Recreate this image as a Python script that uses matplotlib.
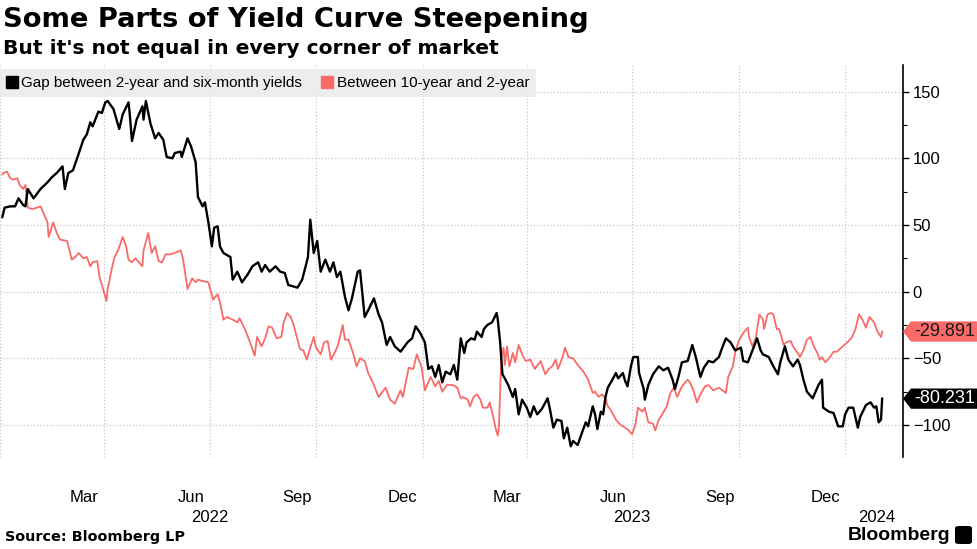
#!/usr/bin/env python3
"""Yield curve gaps: 2y-6m vs 10y-2y, Bloomberg-style chart."""

import pandas as pd
import matplotlib.pyplot as plt
import matplotlib.dates as mdates
from matplotlib.lines import Line2D
from matplotlib.patches import Polygon, FancyBboxPatch
from matplotlib.transforms import blended_transform_factory

plt.rcParams['font.family'] = ['Liberation Sans', 'DejaVu Sans']

# gap between 2-year and six-month yields (bp)
gap_dates = [
    '2022-01-03', '2022-01-05', '2022-01-10', '2022-01-14', '2022-01-17', '2022-01-21', '2022-01-23',
    '2022-01-25', '2022-01-30', '2022-02-05', '2022-02-11', '2022-02-15', '2022-02-19', '2022-02-24',
    '2022-02-26', '2022-03-01', '2022-03-05', '2022-03-09', '2022-03-14', '2022-03-17', '2022-03-20',
    '2022-03-22', '2022-03-27', '2022-03-30', '2022-04-02', '2022-04-04', '2022-04-09', '2022-04-14',
    '2022-04-17', '2022-04-22', '2022-04-23', '2022-04-25', '2022-04-29', '2022-05-04', '2022-05-05',
    '2022-05-07', '2022-05-11', '2022-05-15', '2022-05-18', '2022-05-22', '2022-05-25', '2022-05-30',
    '2022-06-01', '2022-06-06', '2022-06-07', '2022-06-12', '2022-06-15', '2022-06-19', '2022-06-21',
    '2022-06-25', '2022-06-27', '2022-06-30', '2022-07-03', '2022-07-05', '2022-07-08', '2022-07-10',
    '2022-07-13', '2022-07-19', '2022-07-21', '2022-07-25', '2022-07-29', '2022-08-03', '2022-08-07',
    '2022-08-12', '2022-08-15', '2022-08-18', '2022-08-22', '2022-08-27', '2022-08-31', '2022-09-04',
    '2022-09-07', '2022-09-11', '2022-09-15', '2022-09-19', '2022-09-22', '2022-09-24', '2022-09-26',
    '2022-09-29', '2022-10-02', '2022-10-05', '2022-10-09', '2022-10-13', '2022-10-16', '2022-10-19',
    '2022-10-22', '2022-10-26', '2022-10-29', '2022-11-01', '2022-11-06', '2022-11-08', '2022-11-12',
    '2022-11-15', '2022-11-20', '2022-11-24', '2022-11-27', '2022-12-01', '2022-12-04', '2022-12-08',
    '2022-12-13', '2022-12-19', '2022-12-23', '2022-12-26', '2022-12-30', '2023-01-03', '2023-01-06',
    '2023-01-09', '2023-01-12', '2023-01-15', '2023-01-18', '2023-01-21', '2023-01-25', '2023-01-28',
    '2023-01-31', '2023-02-03', '2023-02-06', '2023-02-08', '2023-02-12', '2023-02-15', '2023-02-17',
    '2023-02-21', '2023-02-23', '2023-02-26', '2023-03-02', '2023-03-06', '2023-03-07', '2023-03-09',
    '2023-03-11', '2023-03-13', '2023-03-16', '2023-03-20', '2023-03-22', '2023-03-25', '2023-03-28',
    '2023-04-01', '2023-04-04', '2023-04-07', '2023-04-10', '2023-04-14', '2023-04-19', '2023-04-21',
    '2023-04-24', '2023-04-27', '2023-05-01', '2023-05-03', '2023-05-06', '2023-05-09', '2023-05-11',
    '2023-05-15', '2023-05-19', '2023-05-22', '2023-05-24', '2023-05-28', '2023-05-30', '2023-06-01',
    '2023-06-04', '2023-06-06', '2023-06-08', '2023-06-10', '2023-06-14', '2023-06-17', '2023-06-19',
    '2023-06-23', '2023-06-25', '2023-06-27', '2023-06-30', '2023-07-02', '2023-07-06', '2023-07-07',
    '2023-07-11', '2023-07-12', '2023-07-15', '2023-07-19', '2023-07-24', '2023-07-28', '2023-08-01',
    '2023-08-05', '2023-08-07', '2023-08-10', '2023-08-13', '2023-08-18', '2023-08-22', '2023-08-25',
    '2023-08-29', '2023-09-01', '2023-09-05', '2023-09-09', '2023-09-14', '2023-09-16', '2023-09-20',
    '2023-09-24', '2023-09-28', '2023-10-03', '2023-10-05', '2023-10-09', '2023-10-13', '2023-10-17',
    '2023-10-20', '2023-10-22', '2023-10-27', '2023-10-31', '2023-11-04', '2023-11-06', '2023-11-10',
    '2023-11-13', '2023-11-17', '2023-11-21', '2023-11-23', '2023-11-26', '2023-11-29', '2023-12-04',
    '2023-12-06', '2023-12-09', '2023-12-12', '2023-12-13', '2023-12-18', '2023-12-22', '2023-12-24',
    '2023-12-26', '2023-12-30', '2024-01-01', '2024-01-04', '2024-01-08', '2024-01-12', '2024-01-14',
    '2024-01-19', '2024-01-23', '2024-01-26', '2024-01-28', '2024-01-30', '2024-02-01', '2024-02-02',
]
gap_values = [
    56, 63, 64, 64, 70, 65, 64,
    77, 70, 77, 82, 86, 89, 94,
    77, 89, 91, 101, 114, 118, 127,
    124, 135, 134, 142, 143, 137, 122,
    133, 142, 134, 113, 129, 139, 129,
    143, 126, 115, 119, 114, 101, 100,
    104, 105, 101, 115, 109, 97, 71,
    64, 67, 52, 34, 48, 49, 34,
    29, 26, 9, 15, 7, 13, 19,
    22, 15, 20, 15, 19, 15, 14,
    5, 4, 3, 9, 19, 26, 54,
    29, 38, 15, 24, 15, 22, 11,
    15, -4, -14, -5, 15, 16, -19,
    -14, -5, -17, -23, -40, -34, -41,
    -45, -38, -35, -26, -31, -38, -58,
    -56, -64, -55, -68, -60, -62, -55,
    -66, -35, -46, -38, -35, -36, -30,
    -34, -28, -25, -23, -16, -21, -38,
    -62, -65, -70, -79, -73, -92, -81,
    -87, -94, -86, -92, -88, -80, -88,
    -102, -96, -97, -110, -102, -116, -112,
    -115, -105, -98, -101, -86, -92, -103,
    -90, -92, -79, -72, -66, -61, -65,
    -61, -67, -71, -56, -49, -49, -61,
    -73, -81, -70, -62, -56, -59, -57,
    -66, -73, -64, -53, -52, -40, -49,
    -64, -57, -52, -53, -49, -44, -35,
    -38, -44, -42, -52, -53, -44, -35,
    -44, -47, -49, -56, -62, -53, -41,
    -51, -56, -51, -55, -66, -75, -80,
    -76, -70, -66, -87, -90, -91, -96,
    -101, -101, -92, -87, -87, -102, -94,
    -85, -83, -87, -86, -98, -96, -80.231,
]

# between 10-year and 2-year (bp)
steep_dates = [
    '2022-01-03', '2022-01-04', '2022-01-07', '2022-01-10', '2022-01-12', '2022-01-16', '2022-01-18',
    '2022-01-21', '2022-01-23', '2022-01-25', '2022-01-29', '2022-02-02', '2022-02-05', '2022-02-07',
    '2022-02-11', '2022-02-12', '2022-02-16', '2022-02-19', '2022-02-22', '2022-02-28', '2022-03-04',
    '2022-03-07', '2022-03-10', '2022-03-14', '2022-03-17', '2022-03-20', '2022-03-22', '2022-03-26',
    '2022-03-28', '2022-03-31', '2022-04-03', '2022-04-04', '2022-04-08', '2022-04-10', '2022-04-13',
    '2022-04-17', '2022-04-20', '2022-04-22', '2022-04-25', '2022-04-28', '2022-05-01', '2022-05-04',
    '2022-05-05', '2022-05-09', '2022-05-12', '2022-05-15', '2022-05-18', '2022-05-21', '2022-05-24',
    '2022-05-28', '2022-06-01', '2022-06-06', '2022-06-08', '2022-06-12', '2022-06-16', '2022-06-19',
    '2022-06-21', '2022-06-25', '2022-06-30', '2022-07-04', '2022-07-08', '2022-07-10', '2022-07-13',
    '2022-07-16', '2022-07-21', '2022-07-25', '2022-07-27', '2022-08-01', '2022-08-05', '2022-08-09',
    '2022-08-11', '2022-08-15', '2022-08-18', '2022-08-21', '2022-08-24', '2022-08-28', '2022-09-01',
    '2022-09-03', '2022-09-06', '2022-09-09', '2022-09-11', '2022-09-15', '2022-09-17', '2022-09-20',
    '2022-09-23', '2022-09-26', '2022-09-29', '2022-10-01', '2022-10-05', '2022-10-08', '2022-10-11',
    '2022-10-14', '2022-10-18', '2022-10-20', '2022-10-24', '2022-10-26', '2022-10-29', '2022-11-02',
    '2022-11-05', '2022-11-08', '2022-11-12', '2022-11-15', '2022-11-19', '2022-11-24', '2022-11-30',
    '2022-12-04', '2022-12-08', '2022-12-13', '2022-12-15', '2022-12-20', '2022-12-24', '2022-12-27',
    '2022-12-31', '2023-01-03', '2023-01-08', '2023-01-12', '2023-01-15', '2023-01-18', '2023-01-22',
    '2023-01-27', '2023-01-31', '2023-02-03', '2023-02-05', '2023-02-09', '2023-02-11', '2023-02-14',
    '2023-02-17', '2023-02-20', '2023-02-22', '2023-02-26', '2023-02-28', '2023-03-02', '2023-03-05',
    '2023-03-07', '2023-03-08', '2023-03-09', '2023-03-10', '2023-03-12', '2023-03-13', '2023-03-15',
    '2023-03-17', '2023-03-20', '2023-03-22', '2023-03-25', '2023-03-28', '2023-03-31', '2023-04-04',
    '2023-04-08', '2023-04-13', '2023-04-17', '2023-04-20', '2023-04-23', '2023-04-26', '2023-04-28',
    '2023-05-02', '2023-05-04', '2023-05-07', '2023-05-11', '2023-05-16', '2023-05-20', '2023-05-24',
    '2023-05-28', '2023-05-30', '2023-06-02', '2023-06-05', '2023-06-08', '2023-06-10', '2023-06-12',
    '2023-06-17', '2023-06-21', '2023-06-25', '2023-06-28', '2023-07-01', '2023-07-04', '2023-07-06',
    '2023-07-10', '2023-07-12', '2023-07-15', '2023-07-19', '2023-07-21', '2023-07-24', '2023-07-27',
    '2023-07-31', '2023-08-03', '2023-08-06', '2023-08-09', '2023-08-13', '2023-08-18', '2023-08-20',
    '2023-08-23', '2023-08-26', '2023-08-29', '2023-09-02', '2023-09-05', '2023-09-09', '2023-09-14',
    '2023-09-17', '2023-09-20', '2023-09-22', '2023-09-26', '2023-09-28', '2023-10-01', '2023-10-05',
    '2023-10-09', '2023-10-10', '2023-10-13', '2023-10-16', '2023-10-19', '2023-10-22', '2023-10-23',
    '2023-10-26', '2023-10-29', '2023-10-31', '2023-11-03', '2023-11-05', '2023-11-09', '2023-11-11',
    '2023-11-15', '2023-11-17', '2023-11-21', '2023-11-23', '2023-11-26', '2023-11-29', '2023-12-02',
    '2023-12-05', '2023-12-08', '2023-12-10', '2023-12-12', '2023-12-15', '2023-12-19', '2023-12-22',
    '2023-12-25', '2023-12-30', '2024-01-03', '2024-01-07', '2024-01-10', '2024-01-13', '2024-01-16',
    '2024-01-19', '2024-01-22', '2024-01-26', '2024-01-29', '2024-02-01', '2024-02-02',
]
steep_values = [
    88, 89, 90, 85, 84, 85, 80,
    77, 80, 63, 62, 63, 64, 60,
    52, 41, 52, 44, 39, 38, 24,
    26, 29, 25, 26, 19, 22, 23,
    11, 2, -7, 2, 19, 26, 31,
    41, 34, 24, 22, 25, 22, 19,
    31, 44, 29, 34, 23, 22, 28,
    28, 29, 31, 25, 2, 10, 7,
    9, 8, 7, -6, -2, -8, -21,
    -19, -21, -23, -20, -29, -38, -48,
    -34, -41, -35, -26, -27, -35, -34,
    -23, -16, -19, -23, -36, -43, -44,
    -51, -42, -34, -42, -47, -38, -37,
    -51, -44, -40, -25, -36, -36, -46,
    -56, -50, -52, -61, -68, -79, -72,
    -81, -84, -74, -79, -57, -58, -47,
    -56, -74, -64, -71, -67, -75, -70,
    -70, -72, -80, -79, -81, -86, -79,
    -77, -81, -87, -87, -83, -90, -102,
    -108, -101, -76, -49, -42, -55, -41,
    -56, -46, -53, -40, -47, -52, -51,
    -58, -52, -62, -58, -56, -51, -58,
    -49, -42, -49, -50, -56, -60, -66,
    -76, -75, -79, -77, -80, -86, -88,
    -96, -100, -102, -104, -107, -99, -87,
    -90, -87, -98, -99, -104, -96, -92,
    -86, -76, -72, -79, -71, -66, -68,
    -74, -83, -77, -71, -70, -74, -72,
    -74, -76, -64, -56, -46, -37, -31,
    -27, -34, -41, -34, -17, -21, -28,
    -17, -16, -17, -28, -28, -40, -38,
    -37, -41, -46, -49, -44, -36, -34,
    -41, -46, -51, -49, -53, -49, -45,
    -45, -41, -38, -34, -28, -17, -21,
    -27, -19, -23, -30, -34, -29.891,
]

series_labels = ['Gap between 2-year and six-month yields', 'Between 10-year and 2-year']
series_colors = ['#000000', '#f96b68']

gap_x = pd.to_datetime(gap_dates)
steep_x = pd.to_datetime(steep_dates)

fig = plt.figure(figsize=(9.77, 5.49), dpi=100)
ax = fig.add_axes([0.0, 92 / 549, 903 / 977, 392 / 549])

ax.plot(steep_x, steep_values, color=series_colors[1], lw=1.3, zorder=3)
ax.plot(gap_x, gap_values, color=series_colors[0], lw=1.7, zorder=4)

ax.set_xlim(pd.Timestamp('2022-01-01'), pd.Timestamp('2024-02-20'))
ax.set_ylim(-124, 170)

# y axis on the right
ax.yaxis.tick_right()
ax.set_yticks([-100, -50, 0, 50, 100, 150])
ax.set_yticks(range(-100, 151, 25), minor=True)
ax.tick_params(axis='y', which='major', direction='out', length=4, width=1,
               labelsize=12, pad=3)
ax.tick_params(axis='y', which='minor', direction='out', length=3, width=0.8)
for s in ['top', 'left', 'bottom']:
    ax.spines[s].set_visible(False)
ax.spines['right'].set_linewidth(1.2)

# x axis: grid on quarter starts, month names mid-month
ax.xaxis.set_major_locator(mdates.MonthLocator(bymonth=[1, 4, 7, 10]))
ax.xaxis.set_major_formatter(plt.NullFormatter())
ax.xaxis.set_minor_locator(mdates.MonthLocator(bymonth=[3, 6, 9, 12], bymonthday=15))
ax.xaxis.set_minor_formatter(mdates.DateFormatter('%b'))
ax.tick_params(axis='x', which='both', length=0, labelsize=12, pad=24)

ax.grid(True, which='major', color='#c8c8c8', linestyle=':', linewidth=0.9)
ax.set_axisbelow(True)

# years under the months
tr = blended_transform_factory(ax.transData, ax.transAxes)
for yr, d in [('2022', '2022-07-01'), ('2023', '2023-07-01'), ('2024', '2024-01-28')]:
    ax.text(pd.Timestamp(d), -61 / 392, yr, transform=tr, ha='center', va='center',
            fontsize=12)

# end-value tags
tag_tr = blended_transform_factory(ax.transAxes, ax.transData)
w = 903.0
for vals, col, tcol in [(steep_values, series_colors[1], '#1a1a1a'),
                        (gap_values, series_colors[0], 'white')]:
    v = vals[-1]
    h = 7.6
    pts = [(1.0, v), (1 + 8 / w, v + h), (1 + 75 / w, v + h), (1 + 75 / w, v - h), (1 + 8 / w, v - h)]
    ax.add_patch(Polygon(pts, closed=True, transform=tag_tr, facecolor=col,
                         edgecolor='none', clip_on=False, zorder=6))
    ax.text(1 + 42 / w, v, f'{v:.3f}', transform=tag_tr, ha='center', va='center',
            fontsize=13, color=tcol, zorder=7)

# legend
handles = [Line2D([], [], marker='s', linestyle='none', color=c, markersize=9)
           for c in series_colors]
leg = ax.legend(handles, series_labels, loc='upper left', bbox_to_anchor=(0.0, 1 - 4 / 392),
                ncol=2, frameon=True, fancybox=False, fontsize=11, handlelength=0.7,
                handletextpad=0.25, columnspacing=1.3, borderpad=0.45, borderaxespad=0)
leg.get_frame().set_facecolor('#ececec')
leg.get_frame().set_edgecolor('none')
leg.get_frame().set_alpha(0.9)

# titles and footer
fig.text(0.003, 1 - 20 / 549, 'Some Parts of Yield Curve Steepening', fontsize=19.7,
         fontweight='bold', va='center', ha='left', family='DejaVu Sans')
fig.text(0.003, 1 - 48 / 549, "But it's not equal in every corner of market", fontsize=14.6,
         fontweight='bold', va='center', ha='left', family='DejaVu Sans')
fig.text(0.005, 12 / 549, 'Source: Bloomberg LP', fontsize=10.4, fontweight='bold',
         va='center', ha='left', family='DejaVu Sans')
fig.text(950 / 977, 14 / 549, 'Bloomberg', fontsize=14, fontweight='bold',
         va='center', ha='right')
fig.patches.append(FancyBboxPatch((955 / 977, 5 / 549), 17 / 977, 18 / 549,
                                  boxstyle='round,pad=0,rounding_size=0.004',
                                  transform=fig.transFigure, facecolor='black',
                                  edgecolor='none'))

plt.savefig('out.png', dpi=100)
